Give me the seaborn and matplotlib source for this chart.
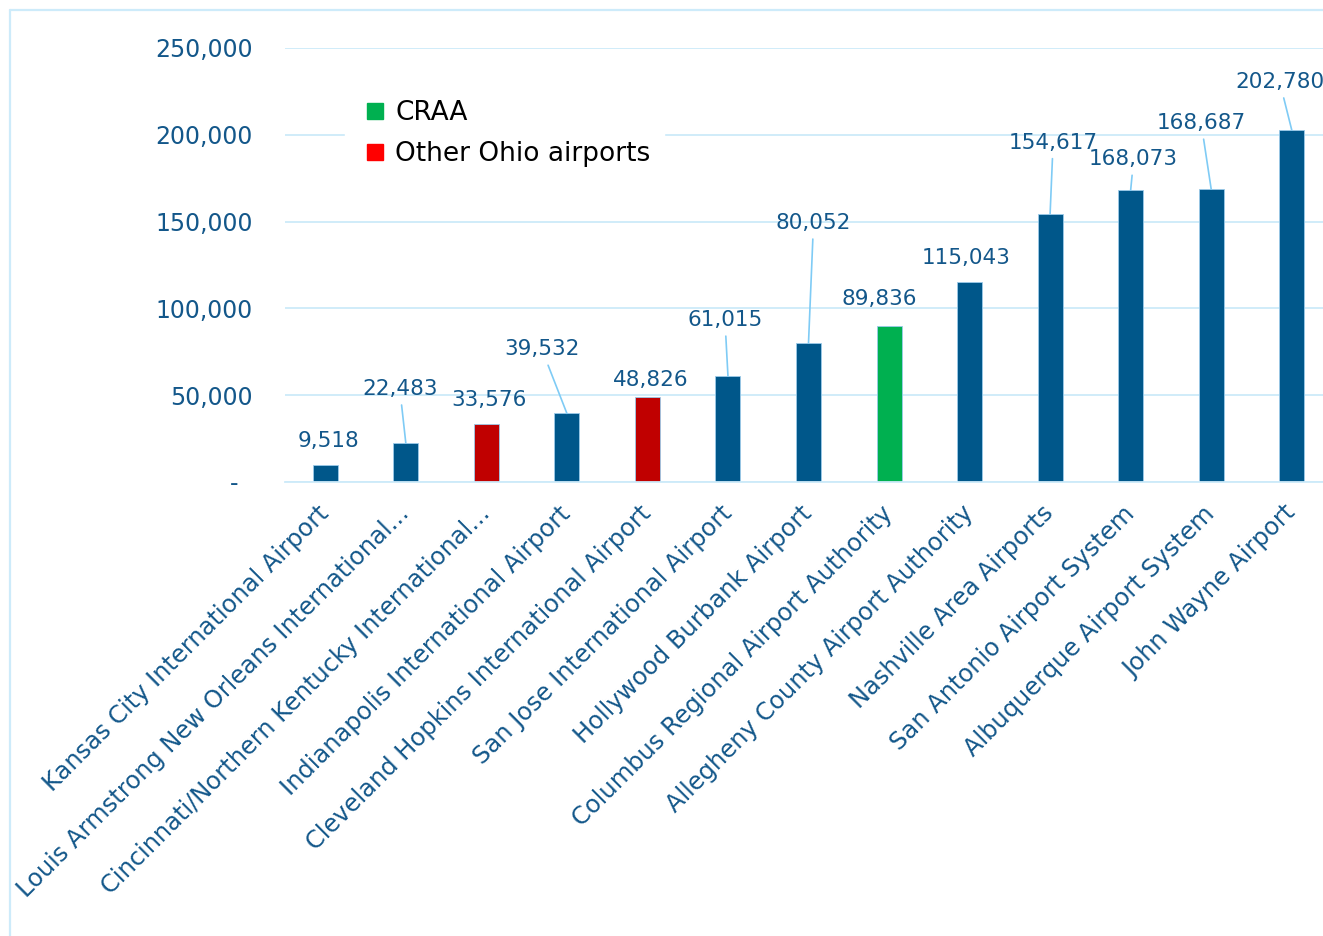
import matplotlib
matplotlib.use("Agg")
import matplotlib.pyplot as plt
from matplotlib.lines import Line2D
from matplotlib.ticker import FuncFormatter, MultipleLocator
import seaborn as sns

# ---- data ----
airports = [
    "Kansas City International Airport",
    "Louis Armstrong New Orleans International...",
    "Cincinnati/Northern Kentucky International...",
    "Indianapolis International Airport",
    "Cleveland Hopkins International Airport",
    "San Jose International Airport",
    "Hollywood Burbank Airport",
    "Columbus Regional Airport Authority",
    "Allegheny County Airport Authority",
    "Nashville Area Airports",
    "San Antonio Airport System",
    "Albuquerque Airport System",
    "John Wayne Airport",
]
values = [9518, 22483, 33576, 39532, 48826, 61015, 80052, 89836,
          115043, 154617, 168073, 168687, 202780]
groups = ["Other", "Other", "Ohio", "Other", "Ohio", "Other", "Other", "CRAA",
          "Other", "Other", "Other", "Other", "Other"]
legend_labels = ["CRAA", "Other Ohio airports"]

# ---- styling / layout ----
BLUE = "#00578A"
DARKRED = "#C00000"
GREEN = "#00B050"
LEG_RED = "#FF0000"
TXT = "#13578A"
GRID = "#CDEAF9"
group_colors = {"Other": BLUE, "Ohio": DARKRED, "CRAA": GREEN}
bar_colors = [group_colors[g] for g in groups]

# label offsets in pixels (dx, dy) from bar top, and whether a leader line is drawn
label_offsets = [(3, 24), (-6, 54), (3, 24), (-25, 64), (3, 17), (-3, 56),
                 (5, 120), (-10, 27), (-3, 24), (3, 71), (3, 31), (-10, 66),
                 (-12, 48)]
leaders = [False, True, False, True, False, True, True, False, False,
           True, True, True, True]

sns.set_theme(style="white")
plt.rcParams["font.family"] = ["DejaVu Sans"]

W, H = 1323, 936
fig = plt.figure(figsize=(W / 100, H / 100), dpi=100)
ax = fig.add_axes([285 / W, 1 - 482 / H, (1332 - 285) / W, (482 - 48) / H])

sns.barplot(x=airports, y=values, hue=airports, palette=bar_colors,
            legend=False, width=0.31, edgecolor="#9CCBEA", linewidth=0.6,
            saturation=1, ax=ax)

ax.set_xlim(-0.5, len(airports) - 0.5)
ax.set_ylim(0, 250000)
ax.yaxis.set_major_locator(MultipleLocator(50000))
ax.yaxis.set_major_formatter(FuncFormatter(lambda v, p: f"{v:,.0f}" if v else "-  "))
ax.grid(axis="y", color=GRID, linewidth=1.3)
ax.set_axisbelow(True)
for s in ["top", "right", "left"]:
    ax.spines[s].set_visible(False)
ax.spines["bottom"].set_color(GRID)
ax.spines["bottom"].set_linewidth(1.3)
ax.set_xlabel("")
ax.set_ylabel("")
ax.tick_params(axis="y", length=0, pad=23, labelsize=17, labelcolor=TXT)
ax.tick_params(axis="x", length=0, pad=20, labelsize=17.4, labelcolor=TXT)
for lbl in ax.get_xticklabels():
    lbl.set_rotation(45)
    lbl.set_ha("right")
    lbl.set_va("center")
    lbl.set_rotation_mode("anchor")

# data labels
for i, (v, (dx, dy), lead) in enumerate(zip(values, label_offsets, leaders)):
    ap = None
    if lead:
        ap = dict(arrowstyle="-", color="#7FCBF5", lw=1.2, shrinkA=2, shrinkB=0)
    ax.annotate(f"{v:,}", xy=(i, v), xytext=(dx, dy), textcoords="offset pixels",
                ha="center", va="center", fontsize=15.5, color=TXT,
                arrowprops=ap, annotation_clip=False)

# legend
handles = [Line2D([], [], marker="s", linestyle="none", markersize=11,
                  markerfacecolor=c, markeredgecolor=c)
           for c in (GREEN, LEG_RED)]
leg = ax.legend(handles, legend_labels, loc="upper left",
                bbox_to_anchor=(345 / W, 1 - 87 / H), bbox_transform=fig.transFigure,
                borderaxespad=0, frameon=True, facecolor="white", edgecolor="white",
                framealpha=1, fontsize=19, handlelength=1.3, handletextpad=0.1,
                labelspacing=0.57, borderpad=0.5, fancybox=False)
for t in leg.get_texts():
    t.set_color("black")

# outer chart border
fig.add_artist(Line2D([9.5 / W, 9.5 / W], [0, 1 - 10 / H], color="#CDEBFA", lw=1.6,
                      transform=fig.transFigure))
fig.add_artist(Line2D([9.5 / W, 1], [1 - 10 / H, 1 - 10 / H], color="#CDEBFA", lw=1.6,
                      transform=fig.transFigure))

fig.savefig("out.png", dpi=100, facecolor="white")
